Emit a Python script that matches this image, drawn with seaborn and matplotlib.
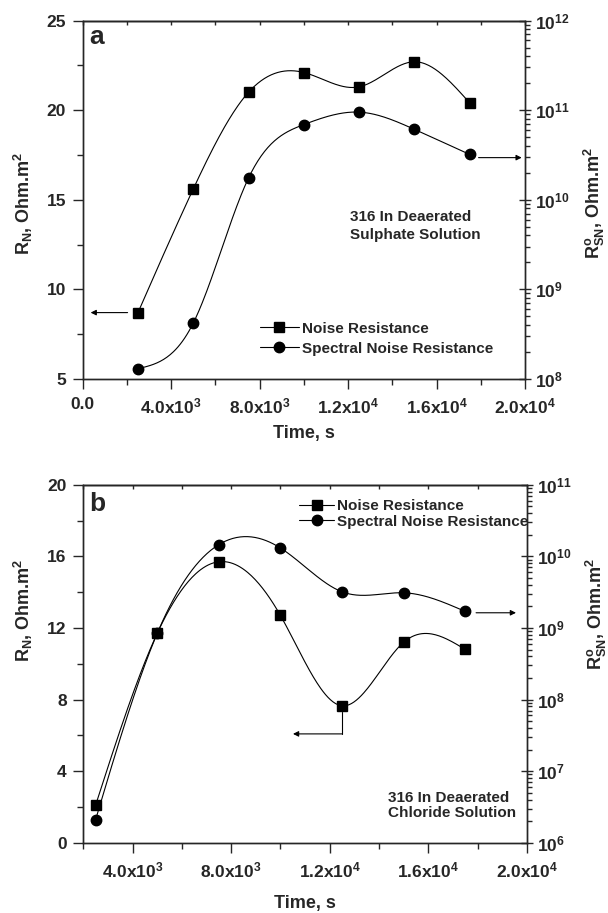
import numpy as np
import matplotlib
matplotlib.use("Agg")
import matplotlib.pyplot as plt
import seaborn as sns
from matplotlib.lines import Line2D
from matplotlib.ticker import FixedLocator, MultipleLocator, LogLocator, NullFormatter

# datos
time_s = [2500, 5000, 7500, 10000, 12500, 15000, 17500]
sulphate_rn = [8.7, 15.6, 21.0, 22.1, 21.3, 22.7, 20.4]
sulphate_rsn = [1.3e8, 4.2e8, 1.75e10, 6.9e10, 9.5e10, 6.1e10, 3.2e10]
chloride_rn = [2.1, 11.7, 15.7, 12.7, 7.65, 11.2, 10.8]
chloride_rsn = [2.1e6, 8.4e8, 1.46e10, 1.31e10, 3.2e9, 3.1e9, 1.7e9]

xticks_a = [0, 4000, 8000, 12000, 16000, 20000]
xlabels_a = ["0.0", "4.0x10$^3$", "8.0x10$^3$", "1.2x10$^4$", "1.6x10$^4$", "2.0x10$^4$"]
xticks_b = [4000, 8000, 12000, 16000, 20000]
xlabels_b = ["4.0x10$^3$", "8.0x10$^3$", "1.2x10$^4$", "1.6x10$^4$", "2.0x10$^4$"]
series_names = ["Noise Resistance", "Spectral Noise Resistance"]

sns.set_style("ticks")
plt.rcParams["font.family"] = ["Liberation Sans", "DejaVu Sans"]
plt.rcParams["font.weight"] = "bold"
plt.rcParams["mathtext.default"] = "regular"
plt.rcParams["axes.linewidth"] = 1.0

ARROW = dict(arrowstyle="-|>", color="black", lw=0.8, mutation_scale=8, shrinkA=0, shrinkB=0)


# spline cubica natural para dibujar la curva suave entre puntos
def natural_spline(x, y, n=300):
    x = np.asarray(x, float)
    y = np.asarray(y, float)
    k = len(x)
    h = np.diff(x)
    A = np.zeros((k, k))
    b = np.zeros(k)
    A[0, 0] = A[-1, -1] = 1
    for i in range(1, k - 1):
        A[i, i - 1] = h[i - 1]
        A[i, i] = 2 * (h[i - 1] + h[i])
        A[i, i + 1] = h[i]
        b[i] = 3 * ((y[i + 1] - y[i]) / h[i] - (y[i] - y[i - 1]) / h[i - 1])
    c = np.linalg.solve(A, b)
    xs = np.linspace(x[0], x[-1], n)
    idx = np.clip(np.searchsorted(x, xs) - 1, 0, k - 2)
    dx = xs - x[idx]
    bb = (y[1:] - y[:-1]) / h - h * (2 * c[:-1] + c[1:]) / 3
    d = (c[1:] - c[:-1]) / (3 * h)
    ys = y[idx] + bb[idx] * dx + c[idx] * dx ** 2 + d[idx] * dx ** 3
    return xs, ys


def panel(ax, rn, rsn, xlim, xticks, xlabels, ylim, ymajor, ylog, xlabelpad):
    ax2 = ax.twinx()
    xs, ys = natural_spline(time_s, rn)
    sns.lineplot(x=xs, y=ys, ax=ax, color="black", lw=0.8, sort=False, estimator=None)
    ax.plot(time_s, rn, "s", color="black", ms=7.5)
    xs, ys = natural_spline(time_s, np.log10(rsn))
    sns.lineplot(x=xs, y=10 ** ys, ax=ax2, color="black", lw=0.8, sort=False, estimator=None)
    ax2.plot(time_s, rsn, "o", color="black", ms=7.5)

    ax.set_xlim(*xlim)
    ax.set_ylim(*ylim)
    ax2.set_yscale("log")
    ax2.set_ylim(*ylog)
    ax.xaxis.set_major_locator(FixedLocator(xticks))
    ax.set_xticklabels(xlabels)
    ax.xaxis.set_minor_locator(MultipleLocator(2000))
    ax.yaxis.set_major_locator(MultipleLocator(ymajor))
    ax.yaxis.set_minor_locator(MultipleLocator(ymajor / 2))
    ax2.yaxis.set_major_locator(LogLocator(base=10, numticks=20))
    ax2.yaxis.set_minor_locator(LogLocator(base=10, subs=np.arange(2, 10), numticks=20))
    ax2.yaxis.set_minor_formatter(NullFormatter())

    ax.tick_params(axis="both", which="major", direction="out", length=7, width=1, labelsize=12.5, pad=5)
    ax.tick_params(axis="x", which="major", pad=6)
    ax.tick_params(axis="both", which="minor", direction="out", length=4, width=1)
    ax.tick_params(top=False, right=False, which="both")
    ax2.tick_params(axis="y", which="major", direction="inout", length=9, width=1, labelsize=12.5, pad=3)
    ax2.tick_params(axis="y", which="minor", direction="out", length=3.5, width=1)

    # marcas cortas hacia dentro en el borde superior
    top = ax.secondary_xaxis("top")
    top.xaxis.set_major_locator(MultipleLocator(2000))
    top.tick_params(direction="in", length=3, width=1, labeltop=False)

    for a in (ax, ax2):
        for s in a.spines.values():
            s.set_linewidth(1.0)
    ax.set_xlabel("Time, s", fontsize=13, fontweight="bold", labelpad=xlabelpad)
    ax.set_ylabel("R$_N$, Ohm.m$^2$", fontsize=13, fontweight="bold")
    ax2.set_ylabel("R$^o_{SN}$, Ohm.m$^2$", fontsize=13, fontweight="bold", rotation=90)
    return ax2


fig = plt.figure(figsize=(6.08, 9.13), dpi=100)

# panel a
ax_a = fig.add_axes([0.136, 0.585, 0.7275, 0.3925])
ax_a2 = panel(ax_a, sulphate_rn, sulphate_rsn, (0, 20000), xticks_a, xlabels_a, (5, 25), 5,
              (1e8, 1e12), 6)
ax_a.yaxis.set_label_coords(-0.108, 0.49)
ax_a2.yaxis.set_label_coords(1.128, 0.49)
ax_a.text(0.015, 0.955, "a", transform=ax_a.transAxes, fontsize=19, fontweight="bold", va="center")
ax_a.text(0.605, 0.47, "316 In Deaerated\nSulphate Solution", transform=ax_a.transAxes,
          fontsize=11, fontweight="bold", va="top", linespacing=1.35)
ax_a.annotate("", xy=(360, 8.7), xytext=(2030, 8.7), arrowprops=ARROW)
ax_a2.annotate("", xy=(19850, 2.95e10), xytext=(17900, 2.95e10), arrowprops=ARROW)
handles = [Line2D([], [], color="black", lw=0.8, marker="s", ms=7.5),
           Line2D([], [], color="black", lw=0.8, marker="o", ms=7.5)]
ax_a2.legend(handles, series_names, loc="upper left", bbox_to_anchor=(0.40, 0.16), frameon=False,
             borderpad=0, borderaxespad=0, handlelength=2.6, handletextpad=0.2, labelspacing=0.4,
             prop={"size": 11, "weight": "bold"})

# panel b
ax_b = fig.add_axes([0.137, 0.077, 0.7295, 0.392])
ax_b2 = panel(ax_b, chloride_rn, chloride_rsn, (2000, 20000), xticks_b, xlabels_b, (0, 20), 4,
              (1e6, 1e11), 10)
ax_b.yaxis.set_label_coords(-0.108, 0.65)
ax_b2.yaxis.set_label_coords(1.128, 0.64)
ax_b.text(0.013, 0.947, "b", transform=ax_b.transAxes, fontsize=19, fontweight="bold", va="center")
ax_b.text(0.688, 0.145, "316 In Deaerated\nChloride Solution", transform=ax_b.transAxes,
          fontsize=11, fontweight="bold", va="top", linespacing=1.15)
ax_b2.annotate("", xy=(19560, 1.63e9), xytext=(17940, 1.63e9), arrowprops=ARROW)
ax_b.plot([12500, 12500], [7.3, 6.08], color="black", lw=0.8)
ax_b.annotate("", xy=(10510, 6.08), xytext=(12500, 6.08), arrowprops=ARROW)
ax_b2.legend(handles, series_names, loc="upper left", bbox_to_anchor=(0.487, 0.96), frameon=False,
             borderpad=0, borderaxespad=0, handlelength=2.3, handletextpad=0.2, labelspacing=0.1,
             prop={"size": 11, "weight": "bold"})

fig.savefig("out.png", dpi=100)
